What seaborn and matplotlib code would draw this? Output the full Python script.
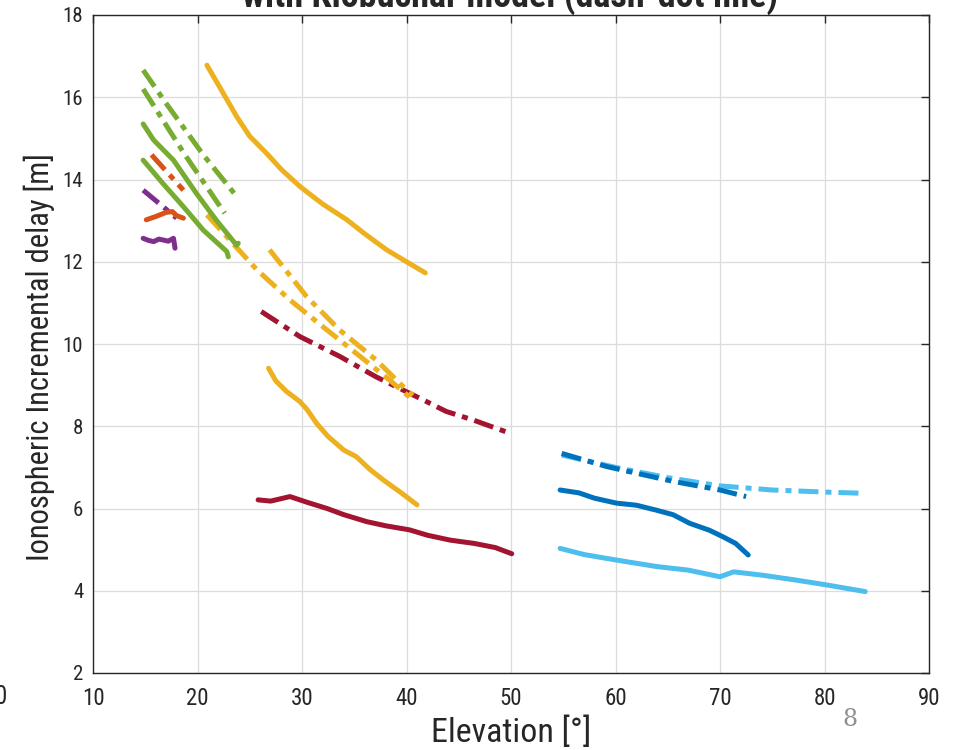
import matplotlib
matplotlib.use("Agg")
import matplotlib.pyplot as plt
from matplotlib import font_manager
import seaborn as sns
import pandas as pd

# ---- data ----
green_solid_a_x = [14.8, 15.8, 17.7, 19.9, 21.8, 23.75, 23.9]
green_solid_a_y = [15.35, 14.96, 14.47, 13.66, 13.01, 12.40, 12.45]
green_solid_b_x = [14.8, 16.7, 18.65, 20.55, 22.8, 22.95]
green_solid_b_y = [14.47, 13.9, 13.34, 12.77, 12.25, 12.12]
green_dash_a_x = [14.8, 17.0, 20.55, 23.9]
green_dash_a_y = [16.66, 15.85, 14.6, 13.54]
green_dash_b_x = [14.8, 18.8, 22.6]
green_dash_b_y = [16.2, 14.6, 13.18]

purple_dash_x = [14.8, 16.7, 18.0]
purple_dash_y = [13.74, 13.34, 13.06]
purple_solid_x = [14.8, 15.3, 15.8, 16.3, 16.7, 17.2, 17.7, 17.85]
purple_solid_y = [12.57, 12.52, 12.49, 12.55, 12.53, 12.5, 12.57, 12.33]

red_dash_x = [15.6, 18.65]
red_dash_y = [14.6, 13.74]
red_solid_x = [15.1, 16.0, 17.0, 17.6, 18.0, 18.65]
red_solid_y = [13.02, 13.1, 13.2, 13.22, 13.12, 13.06]

yellow_solid_hi_x = [20.9, 22.0, 23.75, 25.0, 26.6, 28.0, 29.8, 32.0, 34.3, 36.0, 38.1, 40.0, 41.8]
yellow_solid_hi_y = [16.78, 16.3, 15.53, 15.05, 14.64, 14.25, 13.83, 13.4, 13.02, 12.68, 12.29, 12.0, 11.73]
yellow_dash_a_x = [20.9, 25.7, 28.85, 32.0, 35.2, 38.4, 40.8]
yellow_dash_a_y = [13.14, 11.8, 11.07, 10.42, 9.77, 9.12, 8.6]
yellow_dash_b_x = [26.9, 30.45, 33.6, 37.1, 39.7, 40.6]
yellow_dash_b_y = [12.29, 11.15, 10.34, 9.61, 8.96, 8.75]
yellow_solid_lo_x = [26.8, 27.5, 28.5, 29.8, 30.5, 31.4, 32.5, 34.0, 35.2, 36.5, 37.8, 39.5, 41.0]
yellow_solid_lo_y = [9.41, 9.1, 8.85, 8.6, 8.4, 8.07, 7.75, 7.42, 7.26, 6.95, 6.69, 6.38, 6.09]

maroon_dash_x = [26.1, 29.8, 33.6, 37.1, 41.6, 43.8, 46.4, 49.9]
maroon_dash_y = [10.79, 10.18, 9.70, 9.2, 8.64, 8.36, 8.15, 7.83]
maroon_solid_x = [25.8, 27.0, 28.85, 30.5, 32.4, 34.0, 36.2, 38.0, 40.3, 42.0, 44.2, 46.5, 48.5, 50.07]
maroon_solid_y = [6.21, 6.18, 6.29, 6.15, 6.0, 5.85, 5.68, 5.58, 5.48, 5.35, 5.23, 5.15, 5.05, 4.9]

blue_solid_x = [54.7, 56.5, 58.0, 60.1, 62.0, 63.9, 65.5, 67.1, 69.0, 70.3, 71.5, 72.7]
blue_solid_y = [6.45, 6.38, 6.25, 6.13, 6.08, 5.96, 5.85, 5.64, 5.47, 5.31, 5.15, 4.87]
blue_dash_x = [54.85, 59.15, 65.5, 70.0, 72.5]
blue_dash_y = [7.34, 7.02, 6.66, 6.45, 6.29]
lblue_solid_x = [54.7, 57.0, 60.0, 63.9, 67.0, 70.0, 71.3, 74.0, 77.0, 80.0, 83.9]
lblue_solid_y = [5.03, 4.88, 4.75, 4.59, 4.5, 4.34, 4.46, 4.38, 4.27, 4.15, 3.98]
lblue_dash_x = [54.85, 60.0, 65.0, 70.0, 75.0, 80.0, 83.7]
lblue_dash_y = [7.3, 7.0, 6.75, 6.55, 6.45, 6.4, 6.37]

x_ticks = [10, 20, 30, 40, 50, 60, 70, 80, 90]
y_ticks = [2, 4, 6, 8, 10, 12, 14, 16, 18]
title_text = "with Klobuchar model (dash-dot line)"
x_label = "Elevation [°]"
y_label = "Ionospheric Incremental delay [m]"

BLUE = "#0072BD"; RED = "#D95319"; YELLOW = "#EDB120"; PURPLE = "#7E2F8E"
GREEN = "#77AC30"; LBLUE = "#4DBEEE"; MAROON = "#A2142F"

series = [
    (lblue_dash_x, lblue_dash_y, LBLUE, "dash"),
    (blue_dash_x, blue_dash_y, BLUE, "dash"),
    (maroon_dash_x, maroon_dash_y, MAROON, "dash"),
    (yellow_dash_a_x, yellow_dash_a_y, YELLOW, "dash"),
    (yellow_dash_b_x, yellow_dash_b_y, YELLOW, "dash"),
    (red_dash_x, red_dash_y, RED, "dash"),
    (purple_dash_x, purple_dash_y, PURPLE, "dash"),
    (green_dash_a_x, green_dash_a_y, GREEN, "dash"),
    (green_dash_b_x, green_dash_b_y, GREEN, "dash"),
    (purple_solid_x, purple_solid_y, PURPLE, "solid"),
    (red_solid_x, red_solid_y, RED, "solid"),
    (green_solid_a_x, green_solid_a_y, GREEN, "solid"),
    (green_solid_b_x, green_solid_b_y, GREEN, "solid"),
    (yellow_solid_hi_x, yellow_solid_hi_y, YELLOW, "solid"),
    (yellow_solid_lo_x, yellow_solid_lo_y, YELLOW, "solid"),
    (maroon_solid_x, maroon_solid_y, MAROON, "solid"),
    (blue_solid_x, blue_solid_y, BLUE, "solid"),
    (lblue_solid_x, lblue_solid_y, LBLUE, "solid"),
]

sns.set_theme(style="white")
names = {f.name for f in font_manager.fontManager.ttflist}
fam = [f for f in ["Liberation Sans Narrow", "Roboto Condensed", "Liberation Sans", "DejaVu Sans"] if f in names]
plt.rcParams["font.family"] = fam

fig = plt.figure(figsize=(9.56, 7.5), dpi=100)
ax = fig.add_axes([93 / 956, 1 - 673 / 750, (929 - 93) / 956, (673 - 15) / 750])

for xs, ys, col, style in series:
    df = pd.DataFrame({"x": xs, "y": ys})
    ls = (0, (4.0, 1.4, 1.2, 1.4)) if style == "dash" else "-"
    sns.lineplot(data=df, x="x", y="y", ax=ax, color=col, sort=False,
                 estimator=None, linewidth=3.6, linestyle=ls, legend=False)

ax.set_xlim(10, 90)
ax.set_ylim(2, 18)
ax.set_xticks(x_ticks)
ax.set_yticks(y_ticks)
ax.grid(True, color="#dcdcdc", linewidth=0.9)
ax.set_axisbelow(True)
for sp in ax.spines.values():
    sp.set_color("#262626")
    sp.set_linewidth(1.0)
    sp.set_visible(True)
ax.tick_params(direction="in", length=6, width=1, color="#262626",
               top=True, right=True, labelcolor="#262626")
ax.tick_params(axis="x", labelsize=16.5, pad=10)
ax.tick_params(axis="y", labelsize=15, pad=7)
ax.set_xlabel(x_label, fontsize=24.5, color="#262626", labelpad=5)
ax.set_ylabel(y_label, fontsize=22, color="#262626")
ax.yaxis.set_label_coords(-0.045, 0.48)

fig.text(510 / 956, 1 - 7 / 750, title_text, ha="center", va="baseline",
         fontsize=26, fontweight="bold", color="#262626")
fig.text(850 / 956, 1 - 720 / 750, "8", ha="center", va="center",
         fontsize=17, color="#909090", family="DejaVu Serif")
fig.text(-5 / 956, 1 - 697 / 750, "0", ha="left", va="center",
         fontsize=18, color="#262626")

fig.savefig("out.png", dpi=100)
